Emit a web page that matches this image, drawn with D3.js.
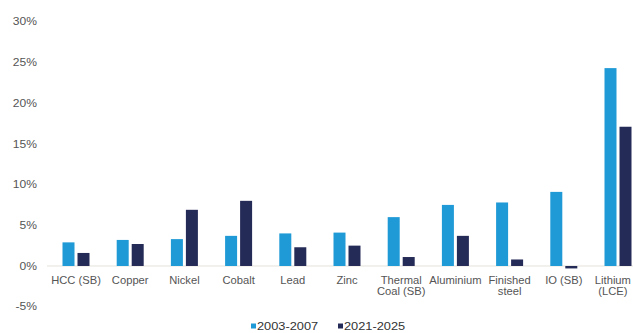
<!DOCTYPE html>
<html><head><meta charset="utf-8">
<script src="https://cdn.jsdelivr.net/npm/d3@7"></script>
<style>body{margin:0;background:#fff}svg{display:block}text{font-family:"Liberation Sans",Arial,sans-serif}</style>
</head><body>
<svg id="c" width="633" height="333"></svg>
<script>
const categories = [["HCC (SB)"],["Copper"],["Nickel"],["Cobalt"],["Lead"],["Zinc"],["Thermal","Coal (SB)"],["Aluminium"],["Finished","steel"],["IO (SB)"],["Lithium","(LCE)"]];
const series = ["2003-2007","2021-2025"];
const values2003 = [2.9,3.2,3.3,3.7,4.0,4.1,6.0,7.5,7.8,9.1,24.3];
const values2021 = [1.6,2.7,6.9,8.0,2.3,2.5,1.1,3.7,0.8,-0.3,17.1];
const yTicks = [-5,0,5,10,15,20,25,30];
const colors = ["#1f9ad6","#252b57"];

const svg = d3.select("#c");
const y = d3.scaleLinear().domain([-5,30]).range([306.7,21.7]);
const x = d3.scaleBand().domain(categories.map((d,i)=>i)).range([48.9,645.1]);
const barW = 12, gap = 3;

// zero line
svg.append("line").attr("x1",47).attr("x2",633).attr("y1",y(0)).attr("y2",y(0))
  .attr("stroke","#e6e2da").attr("stroke-width",1);

// y axis labels
svg.append("g").selectAll("text").data(yTicks).join("text")
  .attr("transform",d=>`translate(37,${y(d)}) scale(1.15,1)`)
  .attr("dy","0.35em").attr("text-anchor","end")
  .attr("font-size",10.5).attr("fill","#555").text(d=>d+"%");

const data = [values2003, values2021];
data.forEach((vals,s)=>{
  svg.append("g").selectAll("rect").data(vals).join("rect")
    .attr("x",(d,i)=>x(i)+x.bandwidth()/2 + (s===0 ? -barW-gap/2 : gap/2))
    .attr("width",barW)
    .attr("y",d=>y(Math.max(0,d)))
    .attr("height",d=>Math.abs(y(d)-y(0)))
    .attr("fill",colors[s]);
});

// category labels (kept inside the 633px canvas)
const lab = svg.append("g");
categories.forEach((lines,i)=>{
  const t = lab.append("text")
    .attr("transform",`translate(${x(i)+x.bandwidth()/2},283.5) scale(1.12,1)`)
    .attr("text-anchor","middle").attr("font-size",10).attr("fill","#555");
  lines.forEach((l,k)=>t.append("tspan").attr("x",0).attr("dy",k?12:0).text(l));
  const bb = t.node().getBBox();
  const cx = x(i)+x.bandwidth()/2;
  const right = cx + bb.width*1.12/2;
  if (right > 631) {
    t.attr("transform",`translate(${cx-(right-631)},283.5) scale(1.12,1)`);
  }
});

// legend
const legX = [251,338];
series.forEach((s,i)=>{
  svg.append("rect").attr("x",legX[i]).attr("y",323.5).attr("width",5).attr("height",5).attr("fill",colors[i]);
  svg.append("text").attr("transform",`translate(${legX[i]+6},326.5) scale(1.22,1)`).attr("dy","0.35em")
    .attr("font-size",10.5).attr("fill","#333").text(s);
});
</script>
</body></html>
